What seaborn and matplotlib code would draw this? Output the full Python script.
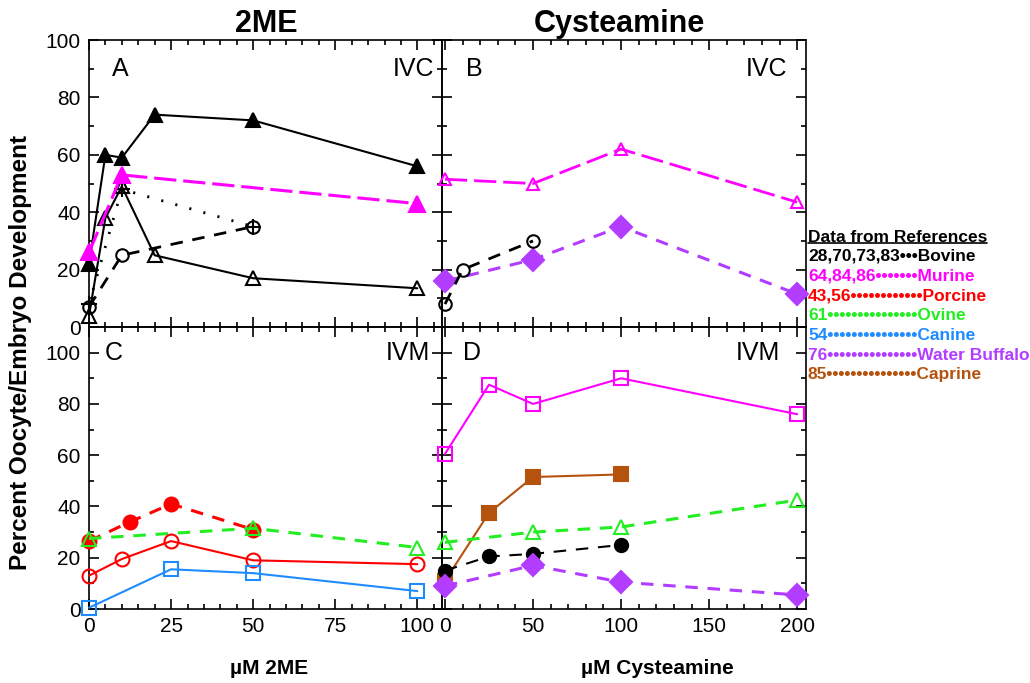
import matplotlib
matplotlib.use('Agg')
import matplotlib.pyplot as plt
from matplotlib.ticker import MultipleLocator, FixedLocator
from matplotlib.lines import Line2D
import seaborn as sns

# colours used by the species
BLACK = 'black'
MAGENTA = '#FF00FF'
RED = '#FF0000'
GREEN = '#22EE22'
BLUE = '#1E8CFF'
PURPLE = '#B23CFF'
BROWN = '#B5520E'

# Panel A - 2ME, IVC
a_bov1_x = [0, 5, 10, 20, 50, 100]
a_bov1_y = [22, 60, 59, 74, 72, 56]
a_bov2_x = [0, 5, 10, 20, 50, 100]
a_bov2_y = [4, 38, 49, 25, 17, 13.5]
a_bov3_x = [0, 10, 50]
a_bov3_y = [7, 25, 35]
a_bov4_x = [0, 10, 50]
a_bov4_y = [8, 48, 35]
a_mur_x = [0, 10, 100]
a_mur_y = [26, 53, 43]

# Panel B - cysteamine, IVC
b_mur_x = [0, 50, 100, 200]
b_mur_y = [51.5, 50, 62, 43.5]
b_buf_x = [0, 50, 100, 200]
b_buf_y = [16, 23.5, 35, 11.5]
b_bov_x = [0, 10, 50]
b_bov_y = [8, 20, 30]

# Panel C - 2ME, IVM
c_por1_x = [0, 12.5, 25, 50]
c_por1_y = [26.5, 34, 41, 31]
c_ovi_x = [0, 50, 100]
c_ovi_y = [27.5, 31.5, 24]
c_por2_x = [0, 10, 25, 50, 100]
c_por2_y = [13, 19.5, 26.5, 19, 17.5]
c_can_x = [0, 25, 50, 100]
c_can_y = [0.5, 15.5, 14, 7]

# Panel D - cysteamine, IVM
d_mur_x = [0, 25, 50, 100, 200]
d_mur_y = [60.5, 87.5, 80, 90, 76]
d_cap_x = [0, 25, 50, 100]
d_cap_y = [11, 37.5, 51.5, 52.5]
d_ovi_x = [0, 50, 100, 200]
d_ovi_y = [26, 30, 32, 42.5]
d_bov_x = [0, 25, 50, 100]
d_bov_y = [15, 20.5, 21.5, 25]
d_buf_x = [0, 50, 100, 200]
d_buf_y = [9, 17, 10.5, 5.5]

legend_refs = ['28,70,73,83', '64,84,86', '43,56', '61', '54', '76', '85']
legend_dots = [3, 7, 12, 15, 15, 15, 15]
legend_names = ['Bovine', 'Murine', 'Porcine', 'Ovine', 'Canine', 'Water Buffalo', 'Caprine']
legend_colors = [BLACK, MAGENTA, RED, GREEN, BLUE, PURPLE, BROWN]

sns.set_style('ticks')
plt.rcParams['font.family'] = ['Liberation Sans', 'DejaVu Sans']
plt.rcParams['lines.scale_dashes'] = False
for k in ('text.color', 'axes.labelcolor', 'xtick.color', 'ytick.color', 'xtick.labelcolor', 'ytick.labelcolor'):
    plt.rcParams[k] = 'black'

SOLID = '-'
LONGDASH = (0, (16, 5))
DASH = (0, (9, 7))
DOT = (0, (1.5, 9))


def draw(ax, x, y, color, marker, ls, filled, ms=9, lw=1.5):
    sns.lineplot(x=x, y=y, ax=ax, color=color, marker=marker, linestyle=ls,
                 markersize=ms, markerfacecolor=color if filled else 'none',
                 markeredgecolor=color, markeredgewidth=1.5, linewidth=lw,
                 clip_on=False, sort=False, estimator=None, zorder=3)


fig = plt.figure(figsize=(10.30, 6.83), dpi=100)
gs = fig.add_gridspec(2, 2, left=0.0864, right=0.7825, top=0.9414, bottom=0.1083,
                      width_ratios=[353, 364], height_ratios=[287, 282],
                      hspace=0, wspace=0)
axA = fig.add_subplot(gs[0, 0])
axB = fig.add_subplot(gs[0, 1])
axC = fig.add_subplot(gs[1, 0])
axD = fig.add_subplot(gs[1, 1])

# A
draw(axA, a_bov1_x, a_bov1_y, BLACK, '^', SOLID, True, ms=10)
draw(axA, a_bov2_x, a_bov2_y, BLACK, '^', SOLID, False, ms=10)
draw(axA, a_bov3_x, a_bov3_y, BLACK, 'o', DASH, False, ms=9, lw=2)
draw(axA, a_bov4_x, a_bov4_y, BLACK, '+', DOT, False, ms=12, lw=2)
draw(axA, a_mur_x, a_mur_y, MAGENTA, '^', LONGDASH, True, ms=11, lw=2.2)

# B
draw(axB, b_mur_x, b_mur_y, MAGENTA, '^', LONGDASH, False, ms=9, lw=2)
draw(axB, b_buf_x, b_buf_y, PURPLE, 'D', DASH, True, ms=11, lw=2.2)
draw(axB, b_bov_x, b_bov_y, BLACK, 'o', DASH, False, ms=9, lw=2)

# C
draw(axC, c_por1_x, c_por1_y, RED, 'o', DASH, True, ms=10, lw=2.2)
draw(axC, c_ovi_x, c_ovi_y, GREEN, '^', DASH, False, ms=10, lw=2.2)
draw(axC, c_por2_x, c_por2_y, RED, 'o', SOLID, False, ms=10)
draw(axC, c_can_x, c_can_y, BLUE, 's', SOLID, False, ms=9.5)

# D
draw(axD, d_mur_x, d_mur_y, MAGENTA, 's', SOLID, False, ms=9.5)
draw(axD, d_cap_x, d_cap_y, BROWN, 's', SOLID, True, ms=10.5)
draw(axD, d_ovi_x, d_ovi_y, GREEN, '^', DASH, False, ms=10, lw=2.2)
draw(axD, d_bov_x, d_bov_y, BLACK, 'o', DASH, True, ms=9.5)
draw(axD, d_buf_x, d_buf_y, PURPLE, 'D', DASH, True, ms=11, lw=2.2)

for ax in (axA, axC):
    ax.set_xlim(0, 107.5)
    ax.xaxis.set_major_locator(FixedLocator([0, 25, 50, 75, 100]))
    ax.xaxis.set_minor_locator(MultipleLocator(5))
for ax in (axB, axD):
    ax.set_xlim(-1.7, 205)
    ax.xaxis.set_major_locator(FixedLocator([0, 50, 100, 150, 200]))
    ax.xaxis.set_minor_locator(MultipleLocator(10))
for ax in (axA, axB):
    ax.set_ylim(0, 100)
for ax in (axC, axD):
    ax.set_ylim(0, 110)

for ax in (axA, axB, axC, axD):
    ax.yaxis.set_major_locator(FixedLocator([0, 20, 40, 60, 80, 100]))
    ax.yaxis.set_minor_locator(MultipleLocator(10))
    ax.tick_params(which='both', direction='in', top=True, right=True,
                   width=1.2, color='black', labelcolor='black', labelsize=15, pad=6)
    ax.tick_params(which='major', length=7)
    ax.tick_params(which='minor', length=3.5)
    for s in ax.spines.values():
        s.set_linewidth(1.2)
        s.set_color('black')
    ax.set_xlabel('')
    ax.set_ylabel('')
    ax.set_facecolor('none')

axA.tick_params(labelbottom=False)
axB.tick_params(labelbottom=False, labelleft=False)
axD.tick_params(labelleft=False)

panel_kw = dict(fontsize=18, va='center')
axA.text(0.065, 0.899, 'A', transform=axA.transAxes, ha='left', **panel_kw)
axA.text(0.977, 0.899, 'IVC', transform=axA.transAxes, ha='right', **panel_kw)
axB.text(0.066, 0.899, 'B', transform=axB.transAxes, ha='left', **panel_kw)
axB.text(0.948, 0.899, 'IVC', transform=axB.transAxes, ha='right', **panel_kw)
axC.text(0.045, 0.908, 'C', transform=axC.transAxes, ha='left', **panel_kw)
axC.text(0.966, 0.908, 'IVM', transform=axC.transAxes, ha='right', **panel_kw)
axD.text(0.058, 0.908, 'D', transform=axD.transAxes, ha='left', **panel_kw)
axD.text(0.929, 0.908, 'IVM', transform=axD.transAxes, ha='right', **panel_kw)

fig.text(266 / 1030, 1 - 24 / 683, '2ME', ha='center', va='center', fontsize=22, fontweight='bold')
fig.text(619 / 1030, 1 - 24 / 683, 'Cysteamine', ha='center', va='center', fontsize=22, fontweight='bold')
fig.text(269 / 1030, 1 - 668 / 683, 'µM 2ME', ha='center', va='center', fontsize=15, fontweight='bold')
fig.text(657 / 1030, 1 - 668 / 683, 'µM Cysteamine', ha='center', va='center', fontsize=15, fontweight='bold')
fig.text(21 / 1030, 1 - 352 / 683, 'Percent Oocyte/Embryo Development', ha='center', va='center',
         rotation=90, fontsize=17.5, fontweight='bold')

# legend block
lx = 808 / 1030
t = fig.text(lx, 1 - 237 / 683, 'Data from References', ha='left', va='center',
             fontsize=12.5, fontweight='bold')
fig.canvas.draw()
bb = t.get_window_extent().transformed(fig.transFigure.inverted())
fig.add_artist(Line2D([bb.x0, bb.x1], [bb.y0 + 0.002, bb.y0 + 0.002], color='black', lw=1.2,
                      transform=fig.transFigure))
for i, (ref, nd, name, col) in enumerate(zip(legend_refs, legend_dots, legend_names, legend_colors)):
    fig.text(lx, 1 - (256 + 19.8 * i) / 683, ref + '•' * nd + name, ha='left', va='center',
             fontsize=12.5, fontweight='bold', color=col)

fig.savefig('out.png', dpi=100)
